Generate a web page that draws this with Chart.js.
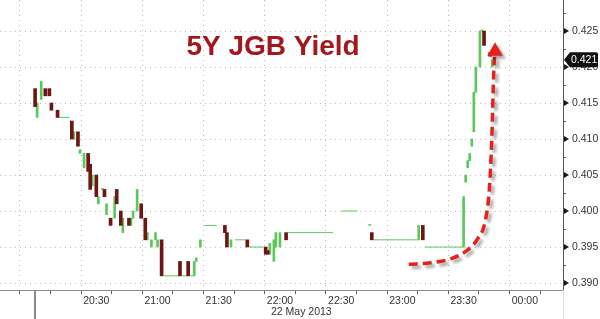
<!DOCTYPE html>
<html>
<head>
<meta charset="utf-8">
<script src="https://cdn.jsdelivr.net/npm/chart.js@4"></script>
<style>
  body { margin: 0; background: #fff; }
  #wrap { width: 600px; height: 319px; }
</style>
</head>
<body>
<div id="wrap"><canvas id="jgb" width="600" height="319"></canvas></div>
<script>
// ------------------------------------------------------------
// 5Y JGB yield, 1-minute bars, 22 May 2013 (minutes after 20:00)
// ------------------------------------------------------------

const candleMinutes = [0, 1, 3, 5, 7, 8, 11, 18, 19, 21, 22, 24, 26, 27, 28, 30, 31, 33, 34, 35, 37, 39, 40, 42, 43, 46, 47, 48, 50, 52, 54, 55, 57, 59, 60, 62, 71, 75, 78, 79, 81, 93, 94, 96, 104, 113, 114, 115, 117, 118, 120, 123, 164, 165, 188, 190, 210, 211, 212, 213, 214, 215, 216, 218, 219, 220, 223, 224];
const candleOpen    = [0.4170, 0.4130, 0.4155, 0.4170, 0.4170, 0.4150, 0.4140, 0.4125, 0.4100, 0.4110, 0.4080, 0.4060, 0.4080, 0.4065, 0.4035, 0.4050, 0.4010, 0.4030, 0.4030, 0.3995, 0.3990, 0.3990, 0.4030, 0.4000, 0.3970, 0.3990, 0.3980, 0.3990, 0.4000, 0.4010, 0.3990, 0.3960, 0.3950, 0.3960, 0.3950, 0.3960, 0.3930, 0.3930, 0.3910, 0.3930, 0.3950, 0.3980, 0.3970, 0.3950, 0.3960, 0.3950, 0.3945, 0.3940, 0.3930, 0.3950, 0.3950, 0.3970, 0.3980, 0.3970, 0.3960, 0.3980, 0.3950, 0.4040, 0.4060, 0.4070, 0.4090, 0.4110, 0.4165, 0.4200, 0.4250, 0.4250, 0.4220, 0.4200];
const candleClose   = [0.4145, 0.4150, 0.4180, 0.4160, 0.4160, 0.4140, 0.4130, 0.4100, 0.4110, 0.4090, 0.4085, 0.4080, 0.4055, 0.4030, 0.4050, 0.4020, 0.4020, 0.4030, 0.4020, 0.4010, 0.3980, 0.4020, 0.4010, 0.3980, 0.3990, 0.3980, 0.3990, 0.4000, 0.4030, 0.3990, 0.3960, 0.3970, 0.3960, 0.3970, 0.3960, 0.3910, 0.3910, 0.3910, 0.3930, 0.3935, 0.3960, 0.3970, 0.3950, 0.3960, 0.3950, 0.3940, 0.3940, 0.3955, 0.3960, 0.3970, 0.3970, 0.3960, 0.3980, 0.3960, 0.3980, 0.3960, 0.4020, 0.4050, 0.4070, 0.4080, 0.4100, 0.4165, 0.4200, 0.4250, 0.4250, 0.4230, 0.4215, 0.4210];

// unchanged stretches (start minute, end minute, level)
const flatStart = [11, 63, 72, 76, 83, 98, 105, 124, 150, 166, 191];
const flatEnd   = [17, 71, 75, 78, 89, 103, 112, 146, 158, 188, 210];
const flatLevel = [0.413, 0.391, 0.391, 0.391, 0.398, 0.396, 0.395, 0.397, 0.400, 0.396, 0.395];

const lastYield = 0.421;

// axis ticks
const xTickMinutes = [0, 15, 30, 45, 60, 75, 90, 105, 120, 135, 150, 165, 180, 195, 210, 225, 240, 255];
const xTickLabels  = ['', '', '20:30', '', '21:00', '', '21:30', '', '22:00', '', '22:30', '', '23:00', '', '23:30', '', '00:00', ''];
const yTickValues  = [0.3900, 0.3925, 0.3950, 0.3975, 0.4000, 0.4025, 0.4050, 0.4075, 0.4100, 0.4125, 0.4150, 0.4175, 0.4200, 0.4225, 0.4250, 0.4275];
const dateLabel = '22 May 2013';
const titleText = '5Y JGB Yield';

// red annotation arrow
const arrowMinutes = [183.1, 193.9, 204.0, 212.0, 217.0, 220.5, 222.6, 223.8, 224.8, 225.4];
const arrowYields  = [0.3926, 0.3928, 0.3934, 0.3946, 0.3962, 0.3985, 0.4030, 0.4100, 0.4196, 0.4222];

const GREEN = '#5cc85c';
const DARKRED = '#6e1616';
const GRID = '#bcbcbc';
const FONT = 'Liberation Sans, Arial, sans-serif';

const isMajorY = v => Math.abs(v * 200 - Math.round(v * 200)) < 1e-6;

const ups = [], downs = [];
candleMinutes.forEach((m, i) => {
  const pt = { x: m, y: [candleOpen[i], candleClose[i]] };
  (candleClose[i] >= candleOpen[i] ? ups : downs).push(pt);
});

const flats = [];
flatStart.forEach((s, i) => {
  flats.push({ x: s, y: flatLevel[i] }, { x: flatEnd[i], y: flatLevel[i] }, { x: flatEnd[i] + 0.5, y: null });
});

const arrowData = arrowMinutes.map((m, i) => ({ x: m, y: arrowYields[i] }));

const noPad = s => { s.paddingTop = 0; s.paddingBottom = 0; s.paddingLeft = 0; s.paddingRight = 0; };

const extras = {
  id: 'extras',
  beforeDatasetDraw(chart, args) {
    if (args.index !== 3) return;
    const ctx = chart.ctx;
    ctx.save();
    ctx.shadowColor = 'rgba(0,0,0,0.35)';
    ctx.shadowBlur = 3;
    ctx.shadowOffsetX = 3;
    ctx.shadowOffsetY = 3;
  },
  afterDatasetDraw(chart, args) {
    if (args.index === 3) chart.ctx.restore();
  },
  afterDraw(chart) {
    const { ctx, chartArea, scales: { x, y } } = chart;
    const H = chart.height;
    ctx.save();

    // day separator and axis extension below the plot
    ctx.fillStyle = '#8c8c8c';
    ctx.fillRect(Math.round(x.getPixelForValue(0)) - 1, chartArea.bottom, 2, H - chartArea.bottom);
    ctx.fillStyle = '#dcdcdc';
    ctx.fillRect(chartArea.right, chartArea.bottom, 1, H - chartArea.bottom);

    // date under the time axis
    ctx.fillStyle = '#333';
    ctx.font = '10.5px ' + FONT;
    ctx.textAlign = 'left';
    ctx.textBaseline = 'middle';
    ctx.fillText(dateLabel, x.getPixelForValue(120) - 9, 312.5);

    // triangle markers on right axis
    ctx.fillStyle = '#1a1a1a';
    yTickValues.filter(isMajorY).forEach(v => {
      const py = y.getPixelForValue(v);
      ctx.beginPath();
      ctx.moveTo(chartArea.right + 1, py - 3);
      ctx.lineTo(chartArea.right + 6, py);
      ctx.lineTo(chartArea.right + 1, py + 3);
      ctx.closePath();
      ctx.fill();
    });

    // last price tag
    const py = y.getPixelForValue(lastYield);
    const l = chartArea.right + 1, r = 598, h = 7.5;
    ctx.fillStyle = '#111';
    ctx.beginPath();
    ctx.moveTo(l, py);
    ctx.lineTo(l + 6, py - h);
    ctx.lineTo(r - 2, py - h);
    ctx.quadraticCurveTo(r, py - h, r, py - h + 2);
    ctx.lineTo(r, py + h - 2);
    ctx.quadraticCurveTo(r, py + h, r - 2, py + h);
    ctx.lineTo(l + 6, py + h);
    ctx.closePath();
    ctx.fill();
    ctx.fillStyle = '#fff';
    ctx.fillText(lastYield.toFixed(3), chartArea.right + 8, py + 0.5);

    // title
    ctx.fillStyle = '#a3171f';
    ctx.font = 'bold 28px ' + FONT;
    ctx.textAlign = 'center';
    ctx.fillText(titleText, 273, 47);
    ctx.restore();
  },
};

new Chart(document.getElementById('jgb'), {
  type: 'bar',
  data: {
    datasets: [
      { type: 'bar', data: ups, backgroundColor: GREEN, barThickness: 2, minBarLength: 1, grouped: false, order: 2 },
      { type: 'bar', data: downs, backgroundColor: DARKRED, barThickness: 3, minBarLength: 1, grouped: false, order: 1 },
      { type: 'line', data: flats, borderColor: GREEN, borderWidth: 1, pointRadius: 0, spanGaps: false, order: 3 },
      {
        type: 'line', data: arrowData, borderColor: '#e5201d', borderWidth: 3.5, borderDash: [9, 5],
        cubicInterpolationMode: 'monotone', pointStyle: 'triangle',
        pointRadius: arrowData.map((_, i) => i === arrowData.length - 1 ? 9 : 0),
        pointBackgroundColor: '#e5201d', pointBorderWidth: 0, order: 0, clip: false,
      },
    ],
  },
  options: {
    responsive: false,
    animation: false,
    layout: { padding: 0, autoPadding: false },
    plugins: { legend: { display: false }, tooltip: { enabled: false }, title: { display: false } },
    scales: {
      x: {
        type: 'linear', min: -17.2, max: 258.7, offset: false,
        afterBuildTicks: s => { s.ticks = xTickMinutes.map(v => ({ value: v })); },
        afterFit: s => { s.height = 29; noPad(s); },
        ticks: {
          autoSkip: false, maxRotation: 0, padding: 1, color: '#333',
          font: { family: FONT, size: 10.5 },
          callback: v => xTickLabels[xTickMinutes.indexOf(v)] || '',
        },
        grid: {
          color: c => (c.tick && c.tick.value % 30 === 0) ? GRID : 'rgba(0,0,0,0)',
          tickColor: '#555', tickLength: 4,
        },
        border: { color: '#8a8a8a', dash: [1, 4] },
      },
      y: {
        position: 'right', min: 0.38903, max: 0.42931,
        afterBuildTicks: s => { s.ticks = yTickValues.map(v => ({ value: v })); },
        afterFit: s => { s.width = 37; noPad(s); },
        ticks: {
          autoSkip: false, padding: 6, color: '#333',
          font: { family: FONT, size: 10.5 },
          callback: v => isMajorY(v) ? v.toFixed(3) : '',
        },
        grid: {
          color: c => (c.tick && isMajorY(c.tick.value)) ? GRID : 'rgba(0,0,0,0)',
          tickColor: '#555', tickLength: 3,
        },
        border: { color: '#555', dash: [1, 4] },
      },
    },
  },
  plugins: [extras],
});
</script>
</body>
</html>
